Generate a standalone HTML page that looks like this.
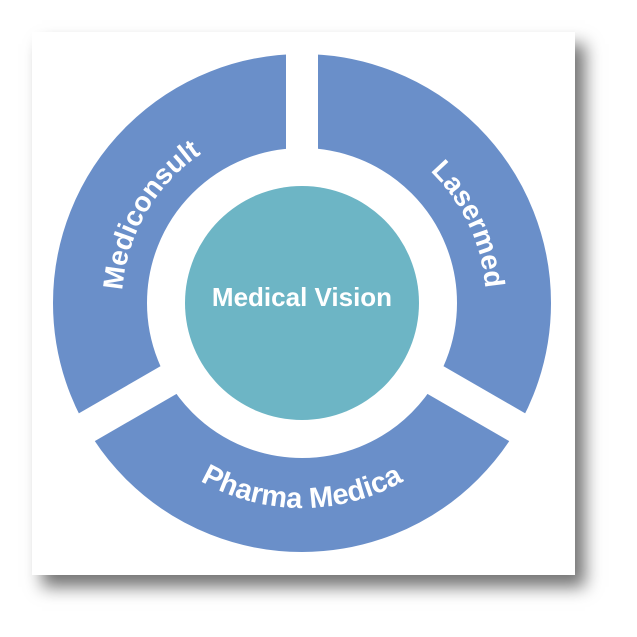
<!DOCTYPE html>
<html><head><style>
html,body{margin:0;padding:0;background:#fff;}
.card{position:absolute;left:32px;top:32px;width:543px;height:543px;background:#fff;box-shadow:10px 12px 16px rgba(0,0,0,0.55);}
svg{position:absolute;left:0;top:0;}
text{font-family:"Liberation Sans",sans-serif;font-weight:bold;fill:#fff;}
</style></head><body>
<div class="card"></div>
<svg width="637" height="637" viewBox="0 0 637 637">
<defs>
<path id="pm" d="M146.1 393 A180 180 0 0 1 302 123"/>
<path id="pl" d="M302 119 A184 184 0 0 1 461.3 395"/>
<path id="pp" d="M124.5 405.5 A205 205 0 0 0 479.5 405.5"/>
</defs>
<circle cx="302" cy="303" r="202" fill="none" stroke="#6a8fc9" stroke-width="94"/>
<g stroke="#fff" stroke-width="32">
<line x1="302" y1="303" x2="302" y2="40"/>
<line x1="302" y1="303" x2="530" y2="434.6"/>
<line x1="302" y1="303" x2="74" y2="434.6"/>
</g>
<circle cx="302" cy="303" r="117" fill="#6db5c5"/>
<text x="302" y="306" font-size="26" text-anchor="middle">Medical Vision</text>
<text font-size="28" text-anchor="middle"><textPath href="#pm" startOffset="50%">Mediconsult</textPath></text>
<text font-size="28" text-anchor="middle"><textPath href="#pl" startOffset="54%">Lasermed</textPath></text>
<text font-size="29" text-anchor="middle"><textPath href="#pp" startOffset="50%">Pharma Medica</textPath></text>
</svg>
</body></html>
